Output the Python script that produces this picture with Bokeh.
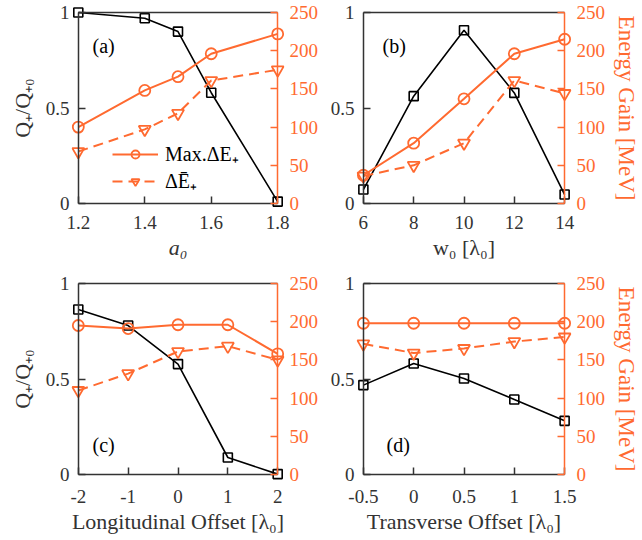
from bokeh.plotting import figure
from bokeh.models import (Range1d, LinearAxis, Legend, LegendItem, Label,
                          FixedTicker)
from bokeh.layouts import gridplot
from bokeh.embed import file_html
from bokeh.resources import INLINE

ORANGE = "#FF6A30"
GRAY = "#333333"
FONT = "Liberation Serif"

# ---- data ----
a_x = [1.2, 1.4, 1.5, 1.6, 1.8]
a_q = [1.0, 0.97, 0.90, 0.58, 0.01]
a_max = [100, 148, 166, 196, 222]
a_mean = [68, 97, 118, 161, 175]

b_x = [6, 8, 10, 12, 14]
b_q = [0.073, 0.562, 0.907, 0.579, 0.047]
b_max = [37, 79, 137, 196, 215]
b_mean = [36, 50, 79, 161, 144]

c_x = [-2, -1, 0, 1, 2]
c_q = [0.864, 0.78, 0.578, 0.089, 0.002]
c_max = [195, 191, 196, 196, 158]
c_mean = [110, 132, 161, 168, 150]

d_x = [-0.5, 0, 0.5, 1, 1.5]
d_q = [0.468, 0.581, 0.503, 0.393, 0.281]
d_max = [198, 198, 198, 198, 198]
d_mean = [171, 159, 165, 174, 180]

a_ticks = [1.2, 1.4, 1.6, 1.8]
a_ticklabels = ["1.2", "1.4", "1.6", "1.8"]
b_ticks = [6, 8, 10, 12, 14]
b_ticklabels = ["6", "8", "10", "12", "14"]
c_ticks = [-2, -1, 0, 1, 2]
c_ticklabels = ["-2", "-1", "0", "1", "2"]
d_ticks = [-0.5, 0, 0.5, 1, 1.5]
d_ticklabels = ["-0.5", "0", "0.5", "1", "1.5"]

q_ticks = [0, 0.5, 1]
q_ticklabels = ["0", "0.5", "1"]
e_ticks = [0, 50, 100, 150, 200, 250]
e_ticklabels = ["0", "50", "100", "150", "200", "250"]

TICK_FS = "19px"
LABEL_FS = "22px"
PAD = 7          # px of frame kept around the drawn box so edge markers show
BOX_W, BOX_H = 205, 191


def line_axis(ax, color):
    """axis drawn on the box edge: line + inward ticks, no labels"""
    ax.axis_line_color = color
    ax.axis_line_width = 1.5
    ax.major_tick_line_color = color
    ax.major_tick_line_width = 1.5
    ax.major_tick_in = 7
    ax.major_tick_out = 0
    ax.minor_tick_line_color = None
    ax.major_label_text_color = None
    ax.major_label_text_font_size = "0px"


def label_axis(ax, color, standoff):
    """axis on the frame side: only tick labels and axis label"""
    ax.axis_line_color = None
    ax.major_tick_line_color = None
    ax.minor_tick_line_color = None
    ax.major_tick_in = 0
    ax.major_tick_out = 0
    ax.major_label_standoff = standoff
    ax.major_label_text_color = color
    ax.major_label_text_font = FONT
    ax.major_label_text_font_size = TICK_FS
    ax.axis_label_text_color = color
    ax.axis_label_text_font = FONT
    ax.axis_label_text_font_size = LABEL_FS
    ax.axis_label_text_font_style = "normal"


def padded(lo, hi, box_px):
    d = (hi - lo) * PAD / box_px
    return Range1d(lo - d, hi + d)


def overrides(ticks, labels):
    return {t: s for t, s in zip(ticks, labels)}


def panel(x, q, emax, emean, xr, xt, xtl, xlabel, left_label, right_label,
          tag, tag_xy, borders, xstandoff, legend=False, xlabel_italic=False):
    bl, br, bt, bb = borders
    p = figure(width=321, height=270, output_backend="svg",
               toolbar_location=None, x_range=padded(xr[0], xr[1], BOX_W),
               y_range=padded(0, 1, BOX_H), min_border_left=bl - PAD,
               min_border_right=br - PAD, min_border_top=bt - PAD,
               min_border_bottom=bb - PAD,
               background_fill_color="white", border_fill_color="white",
               x_axis_type=None, y_axis_type=None)
    p.outline_line_color = None
    p.grid.visible = False
    p.extra_y_ranges = {"e": padded(0, 250, BOX_H)}

    # ---- box lines and ticks ----
    ya = LinearAxis(ticker=FixedTicker(ticks=q_ticks), fixed_location=xr[0],
                    bounds=(0, 1))
    line_axis(ya, GRAY)
    p.add_layout(ya, "left")
    xa = LinearAxis(ticker=FixedTicker(ticks=xt), fixed_location=0,
                    bounds=xr)
    line_axis(xa, GRAY)
    p.add_layout(xa, "below")
    top = LinearAxis(ticker=FixedTicker(ticks=[]), fixed_location=1,
                     bounds=xr)
    line_axis(top, GRAY)
    p.add_layout(top, "above")
    ra = LinearAxis(y_range_name="e", ticker=FixedTicker(ticks=e_ticks),
                    fixed_location=xr[1], bounds=(0, 250))
    line_axis(ra, ORANGE)
    p.add_layout(ra, "right")

    # ---- tick labels and axis labels ----
    yl = LinearAxis(ticker=FixedTicker(ticks=q_ticks),
                    major_label_overrides=overrides(q_ticks, q_ticklabels))
    label_axis(yl, GRAY, 9 - PAD)
    if left_label:
        yl.axis_label = left_label
        yl.axis_label_standoff = 8
    p.add_layout(yl, "left")

    xl = LinearAxis(ticker=FixedTicker(ticks=xt),
                    major_label_overrides=overrides(xt, xtl))
    label_axis(xl, GRAY, xstandoff - PAD)
    xl.axis_label = xlabel
    xl.axis_label_standoff = 3
    if xlabel_italic:
        xl.axis_label_text_font_style = "italic"
    p.add_layout(xl, "below")

    rl = LinearAxis(y_range_name="e", ticker=FixedTicker(ticks=e_ticks),
                    major_label_overrides=overrides(e_ticks, e_ticklabels))
    label_axis(rl, ORANGE, 12 - PAD)
    if right_label:
        rl.axis_label = right_label
        rl.axis_label_standoff = 6
        rl.axis_label_text_font_size = "23px"
    p.add_layout(rl, "right")

    # ---- data ----
    p.line(x, q, line_color="black", line_width=1.6)
    p.scatter(x, q, marker="square", size=9, line_color="black",
              fill_color=None, line_width=1.6)
    l1 = p.line(x, emax, y_range_name="e", line_color=ORANGE, line_width=2)
    s1 = p.scatter(x, emax, y_range_name="e", marker="circle", size=11,
                   line_color=ORANGE, fill_color=None, line_width=1.8)
    l2 = p.line(x, emean, y_range_name="e", line_color=ORANGE, line_width=2,
                line_dash="10 6")
    s2 = p.scatter(x, emean, y_range_name="e", marker="inverted_triangle",
                   size=12, line_color=ORANGE, fill_color=None,
                   line_width=1.8)

    p.add_layout(Label(x=tag_xy[0] + PAD, y=tag_xy[1] + PAD,
                       x_units="screen", y_units="screen", text=tag,
                       text_font=FONT, text_font_size="20px",
                       text_color="black", text_baseline="middle"))

    if legend:
        lg = Legend(items=[
            LegendItem(label="Max.ΔE₊", renderers=[l1, s1]),
            LegendItem(label="ΔĒ₊", renderers=[l2, s2]),
        ], location=(34 + PAD, 9 + PAD), background_fill_alpha=0,
            border_line_color=None, padding=0, margin=0, spacing=0,
            glyph_width=46, glyph_height=20, label_height=20,
            label_standoff=7, label_text_font=FONT,
            label_text_font_size="20px", label_text_color="black")
        p.add_layout(lg)
    return p


pa = panel(a_x, a_q, a_max, a_mean, (1.2, 1.8), a_ticks, a_ticklabels,
           "a₀", "Q₊/Q₊₀", None, "(a)", (14, 158), (78, 38, 12, 67), 12,
           legend=True, xlabel_italic=True)
pb = panel(b_x, b_q, b_max, b_mean, (6, 14), b_ticks, b_ticklabels,
           "w₀ [λ₀]", None, "Energy Gain [MeV]", "(b)", (19, 158),
           (42, 75, 12, 67), 12)
pc = panel(c_x, c_q, c_max, c_mean, (-2, 2), c_ticks, c_ticklabels,
           "Longitudinal Offset [λ₀]", "Q₊/Q₊₀", None, "(c)", (14, 30),
           (78, 38, 13, 66), 15)
pd_ = panel(d_x, d_q, d_max, d_mean, (-0.5, 1.5), d_ticks, d_ticklabels,
            "Transverse Offset [λ₀]", None, "Energy Gain [MeV]", "(d)",
            (23, 30), (42, 75, 13, 66), 15)

layout = gridplot([[pa, pb], [pc, pd_]], toolbar_location=None)
open("out.html", "w").write(file_html(layout, INLINE))
